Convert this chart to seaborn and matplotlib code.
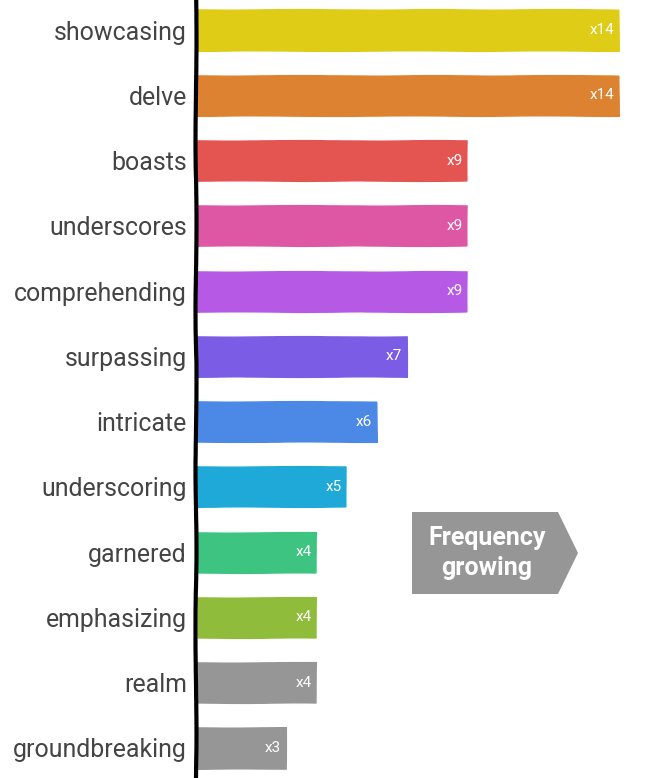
import matplotlib
matplotlib.use("Agg")
import matplotlib.pyplot as plt
import matplotlib.patches as mpatches
import seaborn as sns
import pandas as pd

words = ['showcasing', 'delve', 'boasts', 'underscores', 'comprehending',
         'surpassing', 'intricate', 'underscoring', 'garnered', 'emphasizing',
         'realm', 'groundbreaking']
counts = [14, 14, 9, 9, 9, 7, 6, 5, 4, 4, 4, 3]
bar_colors = ['#DFCC17', '#DD8230', '#E45552', '#DE57A5', '#B65AE6', '#7B5CE5',
              '#4C88E6', '#1EA9D8', '#3CC480', '#8FBC3A', '#969696', '#969696']

sns.set_style('white')
plt.rcParams['font.family'] = ['Roboto', 'DejaVu Sans']

df = pd.DataFrame({'word': words, 'count': counts})

fig = plt.figure(figsize=(6.58, 7.78), dpi=100)
ax = fig.add_axes([196 / 658, 0, 454 / 658, 1])

sns.barplot(data=df, y='word', x='count', hue='word', palette=bar_colors,
            orient='h', width=0.66, legend=False, ax=ax, saturation=1)

# just a hint of a hand-drawn edge on the bars
for bar in ax.patches:
    bar.set_sketch_params(scale=0.3, length=300, randomness=10)

for cont in ax.containers:
    txts = ax.bar_label(cont, labels=[f'x{int(v)}' for v in cont.datavalues],
                        padding=-4, color='white', fontsize=11)
    for t in txts:
        t.set_ha('right')

ax.set_xlim(0, 15)
ax.set_ylim(11.46, -0.46)
ax.set_xlabel('')
ax.set_ylabel('')
ax.set_xticks([])
ax.tick_params(axis='y', length=0, pad=6.5, labelsize=17.9, labelcolor='#444444')
for s in ['top', 'right', 'bottom']:
    ax.spines[s].set_visible(False)
ax.spines['left'].set_linewidth(3)
ax.spines['left'].set_color('black')
ax.spines['left'].set_zorder(5)
ax.spines['left'].set_sketch_params(scale=0.5, length=400, randomness=10)

# "Frequency growing" arrow box
W, H = 658, 778
pts = [(412, 512), (558, 512), (578, 553), (558, 594), (412, 594)]
poly = mpatches.Polygon([(x / W, 1 - y / H) for x, y in pts], closed=True,
                        transform=fig.transFigure, facecolor='#969696',
                        edgecolor='none')
fig.patches.append(poly)
fig.text(487 / W, 1 - 553 / H, 'Frequency\ngrowing', ha='center', va='center',
         color='white', fontsize=18, fontweight='bold', linespacing=1.35)

fig.savefig('out.png', dpi=100)
